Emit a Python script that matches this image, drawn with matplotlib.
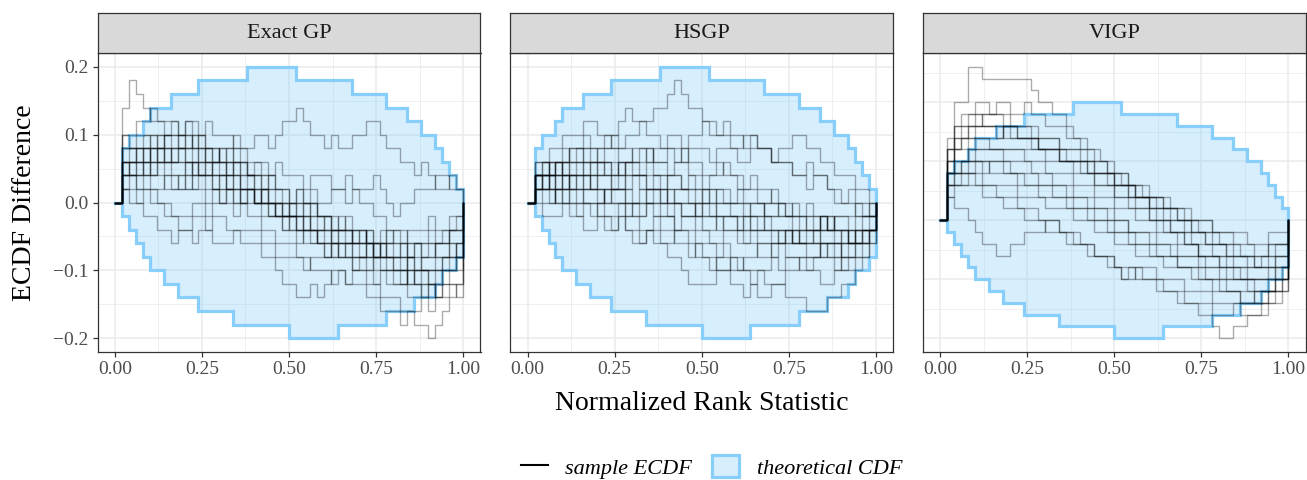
import numpy as np
import matplotlib.pyplot as plt
from matplotlib.lines import Line2D
from matplotlib.patches import Patch
from matplotlib.ticker import MultipleLocator

plt.rcParams['font.family'] = ['Liberation Serif', 'DejaVu Serif']

# all ECDF-difference values are in units of 1/K (K evaluation points)
K = 50
panels = ['Exact GP', 'HSGP', 'VIGP']

# simultaneous confidence band, upper and lower edge
band_upper = [0, 4, 5, 5, 6, 7, 7, 7, 8, 8,
              8, 8, 9, 9, 9, 9, 9, 9, 9, 10,
              10, 10, 10, 10, 10, 10, 9, 9, 9, 9,
              9, 9, 9, 9, 8, 8, 8, 8, 8, 7,
              7, 7, 6, 6, 5, 5, 4, 3, 2, 1,
              0]
band_lower = [0, -1, -2, -3, -4, -5, -5, -6, -6, -7,
              -7, -7, -8, -8, -8, -8, -8, -9, -9, -9,
              -9, -9, -9, -9, -9, -10, -10, -10, -10, -10,
              -10, -10, -9, -9, -9, -9, -9, -9, -9, -8,
              -8, -8, -8, -7, -7, -7, -6, -5, -5, -4,
              0]

exact_gp = [
    [0, 7, 9, 8, 7, 6, 6, 5, 5, 5, 6, 6, 5, 4, 4, 3, 4, 3, 3, 2, 3, 2, 2, 1, 1, 0, 1, 0, 0, -1, -1, -2, -1, -2, -2, -3, -2, -3, -4, -4, -5, -5, -6, -6, -7, -6, -7, -6, -5, -5, 0],
    [0, 3, 3, 4, 4, 3, 4, 5, 5, 4, 3, 3, 4, 4, 3, 4, 4, 5, 4, 4, 5, 5, 4, 5, 6, 6, 7, 6, 5, 5, 4, 5, 4, 4, 5, 5, 6, 6, 5, 4, 4, 3, 3, 2, 3, 2, 1, 1, 2, 1, 0],
    [0, 3, 3, 4, 4, 3, 3, 4, 3, 3, 2, 3, 2, 2, 2, 1, 2, 1, 1, 1, 0, 1, 0, 0, -1, 0, -1, -1, -2, -2, -2, -3, -2, -2, -3, -3, -4, -3, -3, -4, -4, -5, -4, -4, -5, -5, -4, -4, -3, -3, 0],
    [0, 2, 3, 3, 2, 3, 4, 4, 3, 4, 4, 3, 3, 2, 3, 3, 2, 2, 1, 2, 1, 1, 0, 0, -1, -1, -2, -1, -2, -3, -3, -3, -4, -3, -4, -4, -5, -4, -5, -5, -5, -6, -5, -6, -6, -6, -7, -6, -6, -6, 0],
    [0, 4, 4, 5, 5, 5, 4, 5, 6, 5, 5, 4, 5, 4, 4, 3, 3, 4, 3, 2, 2, 2, 1, 1, 0, 0, 1, 0, 0, -1, -1, -1, -2, -2, -3, -3, -2, -3, -3, -2, -3, -3, -4, -3, -4, -4, -3, -3, -2, -2, 0],
    [0, 1, 1, 0, 1, 0, 0, -1, -1, -2, -2, -1, -1, -2, -1, -1, -2, -2, -3, -3, -3, -4, -4, -5, -6, -6, -7, -7, -6, -7, -6, -5, -5, -6, -5, -5, -6, -6, -7, -7, -7, -8, -8, -8, -7, -8, -7, -7, -6, -7, 0],
    [0, 2, 2, 1, 2, 1, 1, 2, 1, 1, 2, 1, 1, 0, 1, 0, 0, -1, 0, -1, -1, -2, -2, -3, -3, -3, -4, -4, -5, -5, -5, -6, -5, -6, -6, -6, -7, -7, -8, -8, -8, -9, -8, -9, -9, -10, -9, -8, -7, -6, 0],
    [0, 2, 2, 1, 1, 1, 0, 0, -1, -1, -1, 0, 0, -1, 0, 0, 1, 0, 1, 1, 1, 0, 0, -1, -1, -1, 0, 0, 1, 0, 0, 1, 1, 2, 1, 1, 1, 2, 1, 0, -1, 0, 0, 1, 1, 1, 2, 2, 1, 1, 0],
    [0, 5, 5, 6, 6, 7, 6, 6, 6, 5, 6, 5, 5, 6, 5, 5, 5, 4, 4, 3, 3, 3, 2, 3, 2, 2, 2, 1, 2, 2, 2, 1, 1, 0, 1, 0, 0, -1, -1, -2, -2, -2, -3, -3, -3, -3, -4, -4, -3, -4, 0],
    [0, 1, 0, 0, -1, -1, -2, -2, -3, -2, -2, -3, -2, -2, -3, -3, -3, -2, -2, -2, -2, -3, -3, -4, -4, -4, -4, -5, -4, -4, -4, -3, -3, -3, -2, -2, -3, -3, -4, -4, -5, -5, -4, -5, -4, -4, -3, -3, -2, -2, 0],
    [0, 3, 4, 4, 3, 4, 4, 3, 4, 4, 5, 4, 4, 3, 3, 2, 2, 3, 2, 2, 1, 0, 0, -1, -1, -2, -2, -3, -3, -2, -3, -4, -4, -4, -5, -4, -4, -5, -5, -6, -6, -6, -7, -7, -6, -7, -6, -5, -5, -4, 0],
    [0, 3, 2, 2, 3, 2, 2, 1, 1, 2, 1, 1, 2, 1, 1, 0, 1, 1, 0, 0, 0, -1, -1, -1, -2, -2, -3, -2, -2, -3, -4, -4, -3, -4, -4, -4, -3, -4, -3, -3, -2, -3, -2, -2, -2, -1, -2, -2, -1, -1, 0],
    [0, 2, 3, 3, 4, 5, 5, 4, 4, 5, 4, 4, 3, 4, 3, 3, 2, 3, 3, 2, 2, 1, 2, 1, 1, 0, 0, -1, 0, -1, -1, -2, -2, -1, -2, -2, -3, -3, -2, -3, -3, -4, -4, -3, -4, -3, -3, -2, -2, -1, 0],
    [0, 1, 2, 2, 3, 2, 3, 3, 2, 2, 3, 3, 2, 2, 1, 2, 1, 1, 0, 1, 0, 0, -1, -1, -2, -1, -2, -2, -3, -3, -4, -3, -4, -4, -5, -5, -5, -6, -5, -5, -6, -6, -5, -6, -5, -5, -5, -4, -4, -3, 0],
    [0, 4, 4, 3, 4, 4, 5, 5, 4, 4, 4, 5, 4, 3, 3, 4, 3, 3, 2, 2, 2, 1, 1, 0, 0, -1, -1, 0, -1, -1, -2, -2, -3, -3, -3, -2, -3, -4, -4, -4, -4, -3, -4, -5, -5, -6, -5, -5, -4, -4, 0],
    [0, 3, 3, 2, 2, 2, 3, 2, 2, 1, 1, 2, 2, 2, 1, 1, 1, 0, 0, 1, 0, 0, 0, -1, -1, -1, -2, -2, -2, -3, -3, -2, -2, -3, -3, -4, -4, -4, -3, -4, -4, -4, -5, -5, -5, -5, -5, -4, -4, -3, 0],
    [0, 2, 2, 3, 3, 4, 3, 3, 3, 4, 3, 2, 3, 3, 2, 2, 3, 2, 1, 1, 0, 1, 0, 0, 0, -1, -1, -2, -2, -2, -1, -2, -2, -2, -3, -3, -3, -4, -4, -3, -4, -4, -3, -3, -3, -2, -3, -3, -2, -2, 0],
    [0, 5, 4, 4, 5, 4, 4, 3, 3, 3, 3, 2, 2, 3, 2, 2, 1, 2, 1, 1, 0, 0, -1, 0, -1, -1, -1, -2, -1, -2, -2, -3, -3, -3, -4, -4, -3, -4, -4, -5, -5, -5, -6, -5, -5, -6, -6, -5, -5, -4, 0],
]

hsgp = [
    [0, 2, 2, 3, 2, 3, 3, 4, 3, 3, 4, 4, 5, 4, 5, 5, 6, 6, 7, 7, 8, 9, 8, 7, 7, 6, 6, 5, 6, 5, 5, 4, 5, 4, 4, 3, 3, 3, 2, 2, 3, 2, 2, 1, 1, 0, 1, 0, 0, -1, 0],
    [0, 1, 2, 2, 3, 3, 4, 4, 5, 4, 4, 5, 5, 6, 7, 6, 6, 5, 5, 4, 4, 3, 4, 3, 3, 2, 2, 3, 2, 2, 1, 1, 2, 1, 1, 0, 0, -1, 0, -1, -1, -2, -1, -2, -2, -2, -3, -2, -2, -2, 0],
    [0, 3, 3, 4, 4, 5, 5, 5, 6, 6, 5, 5, 4, 4, 4, 3, 4, 4, 3, 3, 2, 3, 3, 2, 2, 1, 2, 2, 3, 2, 2, 1, 1, 0, 0, 1, 0, 0, -1, -1, 0, -1, -1, -2, -1, -1, -2, -2, -1, -1, 0],
    [0, 1, 1, 2, 1, 1, 2, 2, 1, 2, 2, 3, 2, 2, 3, 3, 3, 4, 3, 3, 4, 4, 3, 4, 4, 4, 3, 4, 4, 4, 3, 3, 4, 4, 4, 3, 4, 4, 5, 5, 4, 4, 3, 3, 2, 2, 2, 1, 1, 0, 0],
    [0, 1, 0, 0, 1, 0, 0, -1, 0, 0, -1, -1, -2, -1, -2, -2, -3, -2, -3, -3, -4, -4, -5, -6, -6, -6, -6, -5, -5, -4, -5, -4, -4, -3, -3, -4, -3, -3, -2, -3, -2, -2, -1, -2, -1, -1, -1, 0, -1, 0, 0],
    [0, 2, 1, 1, 0, 1, 1, 0, 0, -1, 0, -1, -1, 0, -1, -1, -2, -2, -1, -2, -2, -3, -3, -4, -3, -4, -4, -5, -5, -6, -6, -7, -6, -7, -7, -6, -6, -5, -5, -4, -4, -4, -3, -3, -4, -3, -3, -2, -2, -2, 0],
    [0, 2, 2, 1, 2, 2, 1, 1, 2, 1, 1, 0, 1, 1, 0, 0, -1, 0, 0, -1, -1, -2, -2, -2, -3, -3, -3, -4, -3, -4, -4, -5, -5, -5, -6, -6, -6, -7, -7, -7, -8, -8, -8, -7, -7, -6, -6, -5, -4, -3, 0],
    [0, 2, 3, 2, 2, 3, 2, 2, 2, 1, 2, 2, 1, 1, 2, 2, 1, 1, 1, 0, 1, 0, 0, 0, -1, 0, 0, -1, -1, -1, -2, -2, -1, -2, -2, -2, -3, -2, -2, -3, -3, -3, -4, -3, -3, -4, -4, -3, -3, -2, 0],
    [0, 1, 1, 1, 0, 0, 1, 1, 0, 0, 0, 1, 0, 0, -1, 0, 0, 1, 1, 0, 0, 0, -1, -1, 0, -1, -1, -2, -1, -1, -1, -2, -2, -2, -1, -2, -2, -3, -3, -2, -2, -3, -3, -4, -4, -5, -5, -4, -4, -3, 0],
    [0, 2, 2, 2, 3, 2, 2, 3, 3, 2, 3, 2, 2, 3, 2, 2, 2, 1, 2, 2, 1, 1, 1, 1, 0, 1, 1, 0, 0, 0, 0, -1, 0, 0, -1, -1, -1, -1, -2, -2, -1, -1, -2, -2, -3, -3, -2, -3, -2, -2, 0],
    [0, 0, -1, -1, -1, 0, -1, -1, -2, -2, -1, -2, -2, -1, -2, -3, -3, -2, -2, -3, -3, -2, -2, -3, -4, -4, -5, -4, -4, -5, -5, -5, -6, -5, -5, -4, -5, -4, -4, -5, -5, -5, -6, -6, -5, -5, -4, -4, -3, -2, 0],
    [0, 3, 3, 2, 3, 3, 4, 4, 4, 3, 3, 4, 4, 3, 3, 4, 4, 3, 4, 4, 5, 5, 4, 5, 5, 6, 5, 5, 5, 4, 4, 5, 5, 4, 4, 3, 3, 3, 2, 2, 1, 2, 2, 1, 0, 0, 0, -1, -1, -1, 0],
    [0, 2, 1, 2, 2, 1, 2, 1, 1, 1, 0, 1, 1, 1, 0, 0, 1, 0, 0, 0, -1, 0, -1, -1, -1, -2, -2, -1, -2, -2, -2, -3, -2, -3, -3, -3, -2, -2, -3, -3, -3, -2, -3, -3, -3, -2, -3, -3, -2, -2, 0],
    [0, 2, 2, 3, 3, 2, 3, 3, 2, 3, 3, 3, 2, 3, 3, 2, 2, 3, 2, 2, 2, 2, 1, 2, 1, 1, 0, 1, 1, 0, 0, 0, -1, -1, 0, 0, -1, -1, -1, -2, -2, -2, -1, -1, -2, -2, -2, -1, -1, -1, 0],
    [0, 1, 1, 0, 1, 1, 0, 0, 1, 1, 1, 0, 0, 0, 0, -1, -1, 0, -1, -1, -1, -2, -1, -1, -2, -2, -3, -3, -2, -2, -3, -3, -3, -4, -4, -3, -3, -4, -4, -4, -5, -4, -4, -4, -5, -4, -4, -3, -3, -2, 0],
    [0, 2, 3, 3, 3, 4, 3, 3, 4, 4, 3, 3, 3, 2, 3, 3, 2, 2, 2, 1, 2, 2, 1, 1, 1, 0, 1, 1, 0, 0, 1, 0, 0, 0, -1, -1, 0, -1, -1, -1, -2, -2, -2, -1, -2, -2, -3, -3, -2, -2, 0],
    [0, 1, 2, 1, 1, 2, 1, 2, 2, 2, 1, 1, 1, 2, 1, 0, 0, 0, 1, 1, 0, 0, 0, 0, -1, -1, -1, 0, 0, -1, -1, -1, -2, -2, -2, -3, -3, -2, -3, -3, -4, -4, -3, -3, -3, -4, -3, -3, -3, -2, 0],
    [0, 2, 2, 2, 1, 2, 2, 2, 3, 3, 2, 2, 1, 1, 1, 2, 2, 1, 1, 1, 0, 1, 1, 0, 0, 0, -1, -1, -1, -1, -2, -1, -1, -1, -2, -2, -2, -2, -3, -3, -3, -3, -2, -2, -2, -3, -3, -2, -2, -1, 0],
]

vigp = [
    [0, 7, 10, 10, 13, 13, 12, 12, 12, 12, 12, 12, 12, 11, 10, 10, 9, 9, 8, 7, 7, 6, 6, 5, 4, 4, 3, 3, 2, 2, 1, 0, 0, -1, -1, -2, -2, -3, -3, -3, -4, -4, -5, -5, -5, -6, -6, -5, -5, -4, 0],
    [0, 6, 8, 9, 9, 10, 10, 9, 10, 10, 9, 9, 10, 9, 9, 8, 8, 8, 7, 7, 6, 6, 5, 5, 5, 4, 4, 3, 3, 2, 2, 2, 1, 1, 0, 0, -1, -1, -2, -2, -2, -3, -3, -3, -4, -4, -3, -3, -2, -2, 0],
    [0, 5, 6, 7, 7, 8, 8, 8, 7, 8, 8, 7, 7, 7, 6, 6, 6, 5, 5, 5, 4, 4, 3, 3, 3, 2, 2, 1, 1, 1, 0, 0, -1, -1, -1, -2, -2, -3, -3, -3, -4, -4, -4, -5, -5, -5, -5, -4, -4, -4, 0],
    [0, 4, 5, 5, 6, 6, 6, 6, 6, 5, 5, 5, 5, 4, 4, 4, 3, 3, 3, 2, 2, 2, 1, 1, 0, 0, 0, -1, -1, -1, -2, -2, -2, -3, -3, -3, -3, -4, -4, -4, -5, -5, -5, -5, -6, -6, -6, -6, -5, -5, 0],
    [0, 4, 4, 5, 5, 5, 4, 5, 5, 4, 4, 4, 3, 3, 3, 3, 2, 2, 2, 1, 1, 1, 0, 0, 0, -1, -1, -1, -2, -2, -2, -3, -3, -3, -4, -4, -4, -4, -5, -5, -5, -6, -6, -6, -6, -7, -7, -6, -6, -5, 0],
    [0, 2, 1, 1, 0, -1, -2, -2, -3, -3, -2, -2, -1, -1, -1, 0, 0, -1, -1, -2, -2, -2, -3, -3, -3, -4, -5, -4, -4, -5, -5, -5, -6, -6, -6, -7, -7, -7, -7, -8, -8, -8, -7, -7, -7, -6, -6, -6, -5, -5, 0],
    [0, 3, 3, 4, 4, 3, 3, 3, 2, 2, 2, 1, 1, 1, 0, 0, 0, -1, -1, -1, -2, -2, -3, -3, -3, -4, -4, -4, -5, -5, -5, -6, -6, -6, -7, -7, -7, -8, -8, -9, -10, -10, -9, -9, -8, -8, -8, -7, -7, -6, 0],
    [0, 4, 5, 5, 6, 7, 7, 7, 7, 8, 7, 7, 7, 6, 6, 6, 6, 5, 5, 5, 5, 4, 4, 4, 4, 3, 3, 3, 2, 2, 2, 2, 1, 1, 1, 0, 0, 0, 0, -1, -1, -1, -1, -1, -2, -2, -2, -1, -1, -1, 0],
    [0, 3, 4, 5, 5, 6, 6, 6, 6, 6, 6, 6, 6, 6, 6, 5, 5, 5, 5, 5, 5, 4, 4, 4, 4, 3, 3, 2, 2, 2, 1, 1, 0, 0, 0, -1, -1, -1, -2, -2, -2, -3, -3, -3, -3, -4, -4, -3, -3, -3, 0],
    [0, 2, 3, 3, 3, 3, 2, 2, 2, 1, 1, 1, 0, 0, 0, -1, -1, -1, -2, -2, -2, -3, -3, -3, -4, -4, -5, -5, -4, -4, -4, -5, -5, -5, -5, -6, -6, -6, -6, -7, -7, -7, -7, -8, -8, -8, -7, -7, -6, -6, 0],
    [0, 6, 7, 7, 8, 8, 9, 9, 9, 8, 8, 8, 8, 7, 7, 7, 7, 6, 6, 6, 5, 5, 4, 4, 4, 3, 3, 2, 2, 2, 1, 1, 1, 0, 0, 0, -1, -1, -1, -2, -2, -2, -3, -3, -3, -4, -4, -4, -3, -3, 0],
    [0, 3, 4, 4, 4, 5, 5, 4, 4, 4, 4, 3, 3, 3, 2, 2, 2, 2, 1, 1, 1, 0, 0, 0, -1, -1, -1, -2, -2, -2, -3, -3, -3, -3, -4, -4, -4, -5, -5, -5, -6, -6, -6, -7, -7, -7, -6, -6, -5, -5, 0],
    [0, 5, 6, 6, 7, 7, 7, 6, 6, 6, 6, 6, 5, 5, 5, 4, 4, 4, 4, 3, 3, 3, 2, 2, 2, 1, 1, 1, 0, 0, 0, -1, -1, -1, -2, -2, -2, -3, -3, -3, -3, -4, -4, -4, -5, -5, -5, -5, -4, -4, 0],
    [0, 4, 6, 7, 8, 8, 8, 8, 8, 7, 7, 7, 7, 7, 6, 6, 6, 5, 5, 4, 4, 4, 3, 3, 3, 2, 2, 2, 1, 1, 0, 0, 0, -1, -1, -1, -2, -2, -2, -3, -3, -3, -4, -4, -4, -4, -4, -4, -3, -3, 0],
    [0, 4, 4, 4, 5, 5, 5, 5, 5, 5, 4, 4, 4, 4, 3, 3, 3, 3, 2, 2, 2, 1, 1, 1, 1, 0, 0, -1, -1, -1, -1, -2, -2, -2, -3, -3, -3, -3, -4, -4, -4, -5, -5, -5, -5, -5, -5, -5, -4, -4, 0],
    [0, 5, 7, 8, 8, 9, 9, 9, 9, 9, 8, 8, 8, 8, 7, 7, 7, 6, 6, 6, 6, 5, 5, 5, 4, 4, 4, 3, 3, 3, 2, 2, 2, 1, 1, 1, 0, 0, 0, -1, -1, -1, -2, -2, -2, -3, -3, -2, -2, -2, 0],
    [0, 3, 3, 3, 4, 4, 3, 3, 3, 3, 3, 2, 2, 2, 2, 1, 1, 1, 1, 0, 0, 0, -1, -1, -1, -2, -2, -2, -3, -3, -3, -3, -4, -4, -4, -4, -5, -5, -5, -6, -6, -6, -6, -7, -7, -7, -7, -6, -6, -5, 0],
    [0, 6, 8, 8, 9, 9, 8, 8, 8, 8, 8, 7, 7, 7, 6, 6, 6, 6, 5, 5, 5, 5, 4, 4, 3, 3, 3, 3, 2, 2, 2, 1, 1, 1, 0, 0, 0, -1, -1, -1, -2, -2, -2, -3, -3, -3, -3, -2, -2, -2, 0],
]

x_ticks = [0, 0.25, 0.5, 0.75, 1]
x_labels = ['0.00', '0.25', '0.50', '0.75', '1.00']
y_ticks = [-0.2, -0.1, 0.0, 0.1, 0.2]
y_labels = ['\u22120.2', '\u22120.1', '0.0', '0.1', '0.2']

z = np.arange(K + 1) / K

band_col = '#87CEFA'
grid_col = '#EBEBEB'
dark = '#333333'

W, H = 1307, 480
fig = plt.figure(figsize=(W / 100, H / 100), dpi=100)

lefts = [97.5, 510.2, 922.9]
pw = 383
strip_top, top, bot = 13.3, 53.3, 351.7

for j, (name, lines) in enumerate(zip(panels, [exact_gp, hsgp, vigp])):
    ax = fig.add_axes([lefts[j] / W, 1 - bot / H, pw / W, (bot - top) / H])
    up = np.array(band_upper) / K
    lo = np.array(band_lower) / K
    ax.fill_between(z, lo, up, step='post', color=band_col, alpha=0.33, lw=0)
    for edge in (up, lo):
        ax.step(z, edge, where='post', color=band_col, lw=2.3,
                solid_joinstyle='miter')
    for v in lines:
        ax.step(z, np.array(v) / K, where='post', color='black', alpha=0.33,
                lw=1.0)

    allv = np.concatenate([lo, up] + [np.array(v) / K for v in lines])
    r = allv.max() - allv.min()
    ax.set_ylim(allv.min() - 0.05 * r, allv.max() + 0.05 * r)
    ax.set_xlim(-0.05, 1.05)

    ax.set_axisbelow(True)
    ax.set_xticks(x_ticks, x_labels)
    ax.set_yticks(y_ticks, y_labels)
    ax.xaxis.set_minor_locator(MultipleLocator(0.125))
    ax.yaxis.set_minor_locator(MultipleLocator(0.05))
    ax.grid(which='major', color=grid_col, lw=1.1)
    ax.grid(which='minor', color=grid_col, lw=0.55)
    ax.tick_params(which='minor', length=0)
    ax.tick_params(which='major', length=3.5, width=0.9, color=dark,
                   labelcolor='#4D4D4D', labelsize=14, pad=3)
    if j > 0:
        ax.tick_params(axis='y', left=False, labelleft=False)
    for s in ax.spines.values():
        s.set_color(dark)
        s.set_linewidth(0.9)

    sax = fig.add_axes([lefts[j] / W, 1 - top / H, pw / W, (top - strip_top) / H])
    sax.set_facecolor('#D9D9D9')
    sax.set_xticks([])
    sax.set_yticks([])
    for s in sax.spines.values():
        s.set_color(dark)
        s.set_linewidth(0.9)
    sax.text(0.5, 0.5, name, ha='center', va='center', fontsize=16,
             color='#1A1A1A', transform=sax.transAxes)

fig.text(701.7 / W, 1 - 403 / H, 'Normalized Rank Statistic', ha='center',
         va='center', fontsize=20)
fig.text(25 / W, 1 - 202.5 / H, 'ECDF Difference', ha='center', va='center',
         rotation=90, fontsize=20)

handles = [Line2D([], [], color='black', lw=1.5),
           Patch(facecolor=(0.53, 0.81, 0.98, 0.33), edgecolor=band_col, lw=2.3)]
fig.legend(handles, ['sample ECDF', 'theoretical CDF'], loc='center',
           bbox_to_anchor=(711.5 / W, 1 - 467 / H), ncol=2, frameon=False,
           prop={'style': 'italic', 'size': 16}, handlelength=1.2,
           handleheight=1.1, handletextpad=0.8, columnspacing=0.9)

fig.savefig('out.png', dpi=100)
